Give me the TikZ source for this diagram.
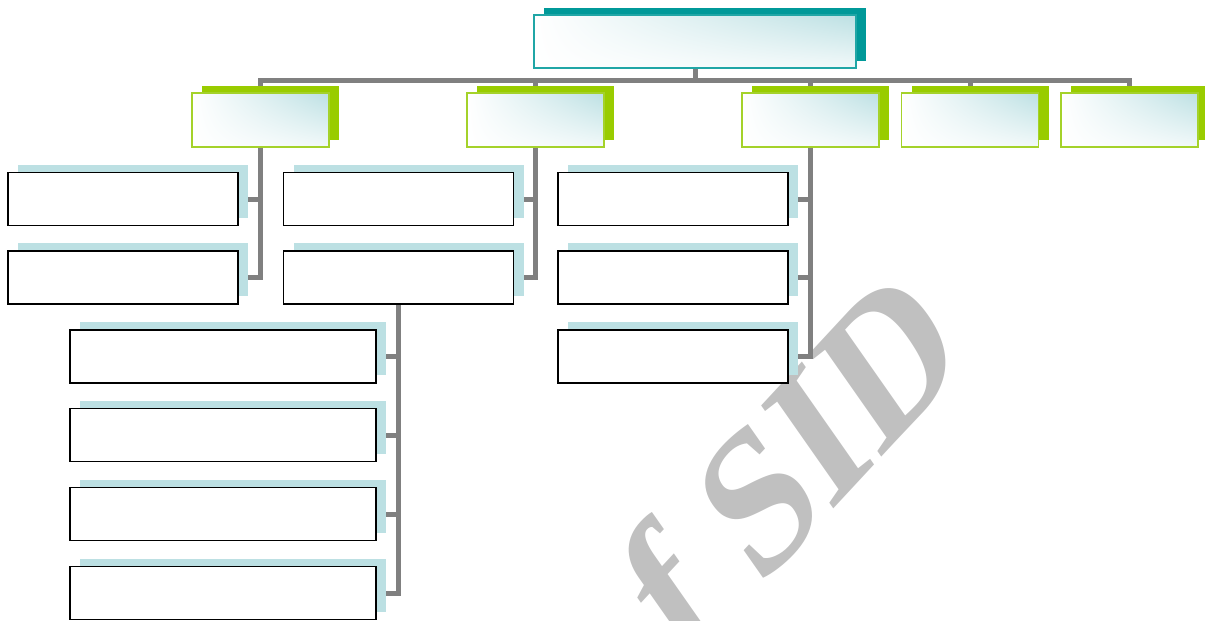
\documentclass[tikz,border=0pt]{standalone}
\usepackage{fontspec}
\newfontfamily\wmfont{Liberation Serif}
\usetikzlibrary{shadows,shadings}
\pgfdeclarelayer{background}
\pgfsetlayers{background,main}

\definecolor{headteal}{HTML}{009999}
\definecolor{headline}{HTML}{20A6A6}
\definecolor{leafgreen}{HTML}{99CC00}
\definecolor{leafline}{HTML}{A4D22A}
\definecolor{paleteal}{HTML}{BCE0E3}
\definecolor{wiregray}{HTML}{808080}
\definecolor{wmgray}{HTML}{C0C0C0}

\tikzset{
  gradbox/.style={rectangle, inner sep=0pt, outer sep=0pt, line width=1.5pt,
    upper left=white, lower left=white, upper right=paleteal, lower right=paleteal!20},
  headbox/.style={gradbox, draw=headline, minimum width=322pt, minimum height=53pt,
    general shadow={fill=headteal, shadow xshift=10pt, shadow yshift=7pt}},
  unitbox/.style={gradbox, draw=leafline, minimum width=137pt, minimum height=54pt,
    general shadow={fill=leafgreen, shadow xshift=10pt, shadow yshift=7pt}},
  itembox/.style={rectangle, inner sep=0pt, outer sep=0pt, draw=black, line width=1.6pt,
    fill=white, minimum height=53pt,
    general shadow={fill=paleteal, shadow xshift=10pt, shadow yshift=8pt}},
  shortbox/.style={itembox, minimum width=230pt},
  longbox/.style={itembox, minimum width=306pt},
  wire/.style={draw=wiregray, line width=5pt, line join=miter},
}

\begin{document}
\begin{tikzpicture}[x=1pt, y=-1pt]
  \useasboundingbox (0,0) rectangle (1205,621);
  \clip (0,0) rectangle (1205,621);

  % head of the chart
  \node[headbox] (top) at (695,41.5) {};

  % first level units
  \node[unitbox] (u1) at (260.5,120) {};
  \node[unitbox] (u2) at (535.5,120) {};
  \node[unitbox] (u3) at (810.5,120) {};
  \node[unitbox] (u4) at (970,120) {};
  \node[unitbox] (u5) at (1129.5,120) {};

  % items under the first unit
  \node[shortbox] (a1) at (123,199) {};
  \node[shortbox] (a2) at (123,277.5) {};

  % items under the second unit
  \node[shortbox] (b1) at (398.5,199) {};
  \node[shortbox] (b2) at (398.5,277.5) {};

  % items under the third unit
  \node[shortbox] (c1) at (673,199) {};
  \node[shortbox] (c2) at (673,277.5) {};
  \node[shortbox] (c3) at (673,356.5) {};

  % sub-items of b2
  \node[longbox] (d1) at (223,356.5) {};
  \node[longbox] (d2) at (223,435) {};
  \node[longbox] (d3) at (223,514) {};
  \node[longbox] (d4) at (223,593) {};

  \begin{pgfonlayer}{background}
    % watermark: rotated, then stretched vertically
    \begin{scope}[shift={(828,515)}, yscale=1.24, rotate=41]
      \node[transform shape, anchor=base, text=wmgray, inner sep=0pt,
        font={\wmfont\bfseries\fontsize{168pt}{168pt}\selectfont}] (wm) at (0,0) {f SID};
    \end{scope}

    % connectors
    \coordinate (bus) at (695,80.5);
    \draw[wire] (top.south) -- (bus);
    \foreach \u in {u1,u2,u3,u4,u5}
      \draw[wire] (bus) -| (\u.north);
    \foreach \c in {a1,a2}
      \draw[wire] (u1.south) |- (\c.east);
    \foreach \c in {b1,b2}
      \draw[wire] (u2.south) |- (\c.east);
    \foreach \c in {c1,c2,c3}
      \draw[wire] (u3.south) |- (\c.east);
    \foreach \c in {d1,d2,d3,d4}
      \draw[wire] (b2.south) |- (\c.east);
  \end{pgfonlayer}
\end{tikzpicture}
\end{document}
